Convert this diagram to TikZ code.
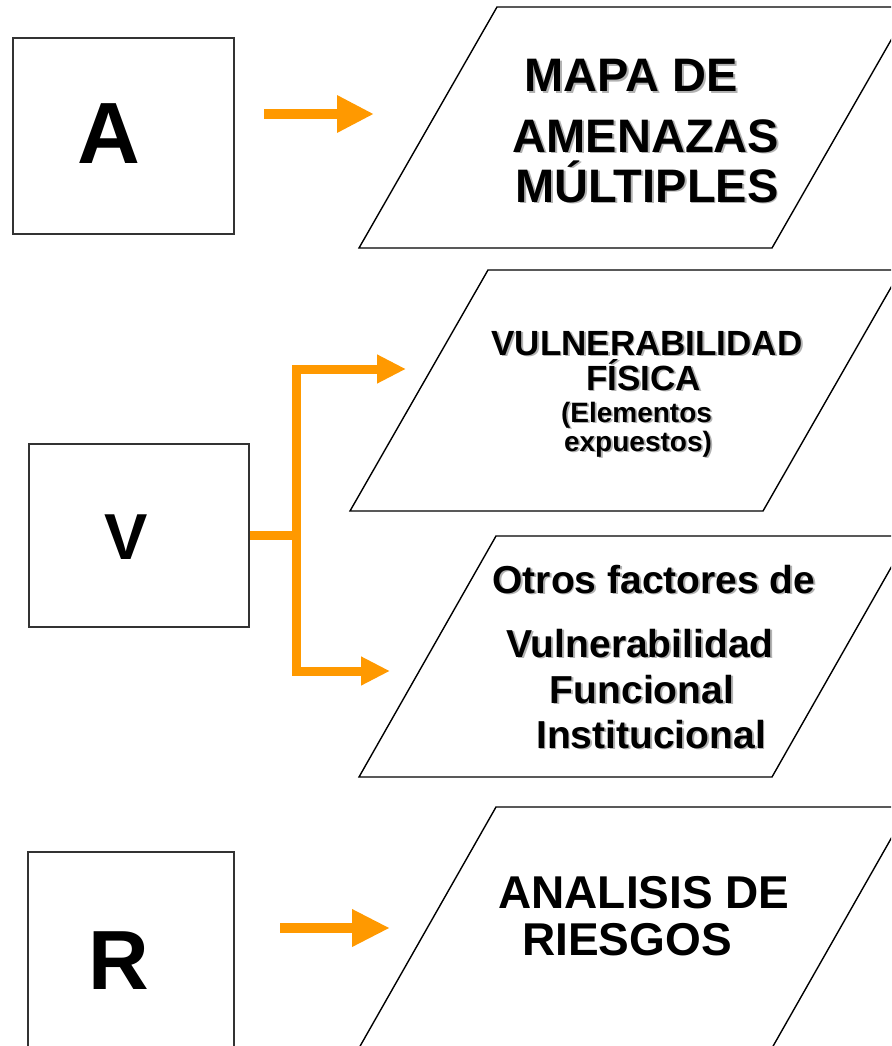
\documentclass[tikz,border=0pt]{standalone}
\usepackage{fontspec}
\setmainfont{Liberation Sans}
\usetikzlibrary{arrows.meta}
\definecolor{arrorange}{HTML}{FF9900}
\newcommand\fs[1]{\fontsize{#1}{#1}\selectfont}
\newcommand\shtxt[4]{%
  \node[txt, text=black!30, xshift=1.8pt, yshift=-1.8pt] at (#2) {\fs{#3}#4};
  \node[txt] (#1) at (#2) {\fs{#3}#4};}
\begin{document}
\begin{tikzpicture}[x=1pt,y=-1pt,
  txt/.style={anchor=base, inner sep=0pt, font=\bfseries},
  box/.style={draw=black!80, line width=1.5pt, fill=white, inner sep=0pt},
  para/.style={draw=black, line width=1.4pt, fill=white},
  arr/.style={draw=arrorange, line width=10pt},
  bar/.style={draw=arrorange, line width=9pt},
]
\useasboundingbox (0,0) rectangle (891,1046);
\clip (0,0) rectangle (891,1046);
\fill[white] (0,0) rectangle (891,1046);

% parallelograms
\draw[para] (497,7) -- (910,7) -- (772,248) -- (359,248) -- cycle;
\draw[para] (488,270) -- (901,270) -- (763,511) -- (350,511) -- cycle;
\draw[para] (496,536) -- (909,536) -- (772,777) -- (359,777) -- cycle;
\draw[para] (496,807) -- (909,807) -- (772,1048) -- (359,1048) -- cycle;

% boxes
\node[box, minimum width=221pt, minimum height=196pt] (Abox) at (123.5,136) {};
\node[box, minimum width=220pt, minimum height=183pt] (Vbox) at (139,535.5) {};
\node[box, minimum width=206pt, minimum height=200pt] (Rbox) at (131,952) {};
\node[txt] (Alet) at (108.5,163) {\fs{87}A};
\node[txt] (Vlet) at (126.5,559) {\fs{65}V};
\node[txt] (Rlet) at (119,989) {\fs{84}R};

% arrows
\coordinate (a1) at (264,114); \coordinate (a2) at (374,114);
\draw[arr, -{Triangle[length=37pt,width=35pt]}] (a1) -- (a2);
\coordinate (r1) at (280,928); \coordinate (r2) at (390,928);
\draw[arr, -{Triangle[length=38pt,width=35pt]}] (r1) -- (r2);
\coordinate (vj) at (296,535.5);
\coordinate (vt) at (296,369); \coordinate (vb) at (296,671);
\coordinate (vt2) at (406,369); \coordinate (vb2) at (390,671);
\draw[bar, {Triangle[length=29pt,width=27pt]}-{Triangle[length=29pt,width=27pt]}] (vt2) -- (vt) -- (vb) -- (vb2);
\draw[bar] (Vbox.east) -- (vj);

% texts
\shtxt{t1a}{631,92}{47}{MAPA DE}
\shtxt{t1b}{646,152}{47}{AMENAZAS}
\shtxt{t1c}{647,202}{47}{MÚLTIPLES}
\shtxt{t2a}{647,355}{35}{VULNERABILIDAD}
\shtxt{t2b}{643.5,390}{35}{FÍSICA}
\shtxt{t2c}{636.5,422}{28}{(Elementos}
\shtxt{t2d}{638,451}{28}{expuestos)}
\shtxt{t3a}{654,593}{39}{Otros factores de}
\shtxt{t3b}{640,657}{39}{Vulnerabilidad}
\shtxt{t3c}{642,703}{39}{Funcional}
\shtxt{t3d}{651,748}{39}{Institucional}
\node[txt] (t4a) at (644,908) {\fs{46}ANALISIS DE};
\node[txt] (t4b) at (627,955) {\fs{46}RIESGOS};
\end{tikzpicture}
\end{document}
